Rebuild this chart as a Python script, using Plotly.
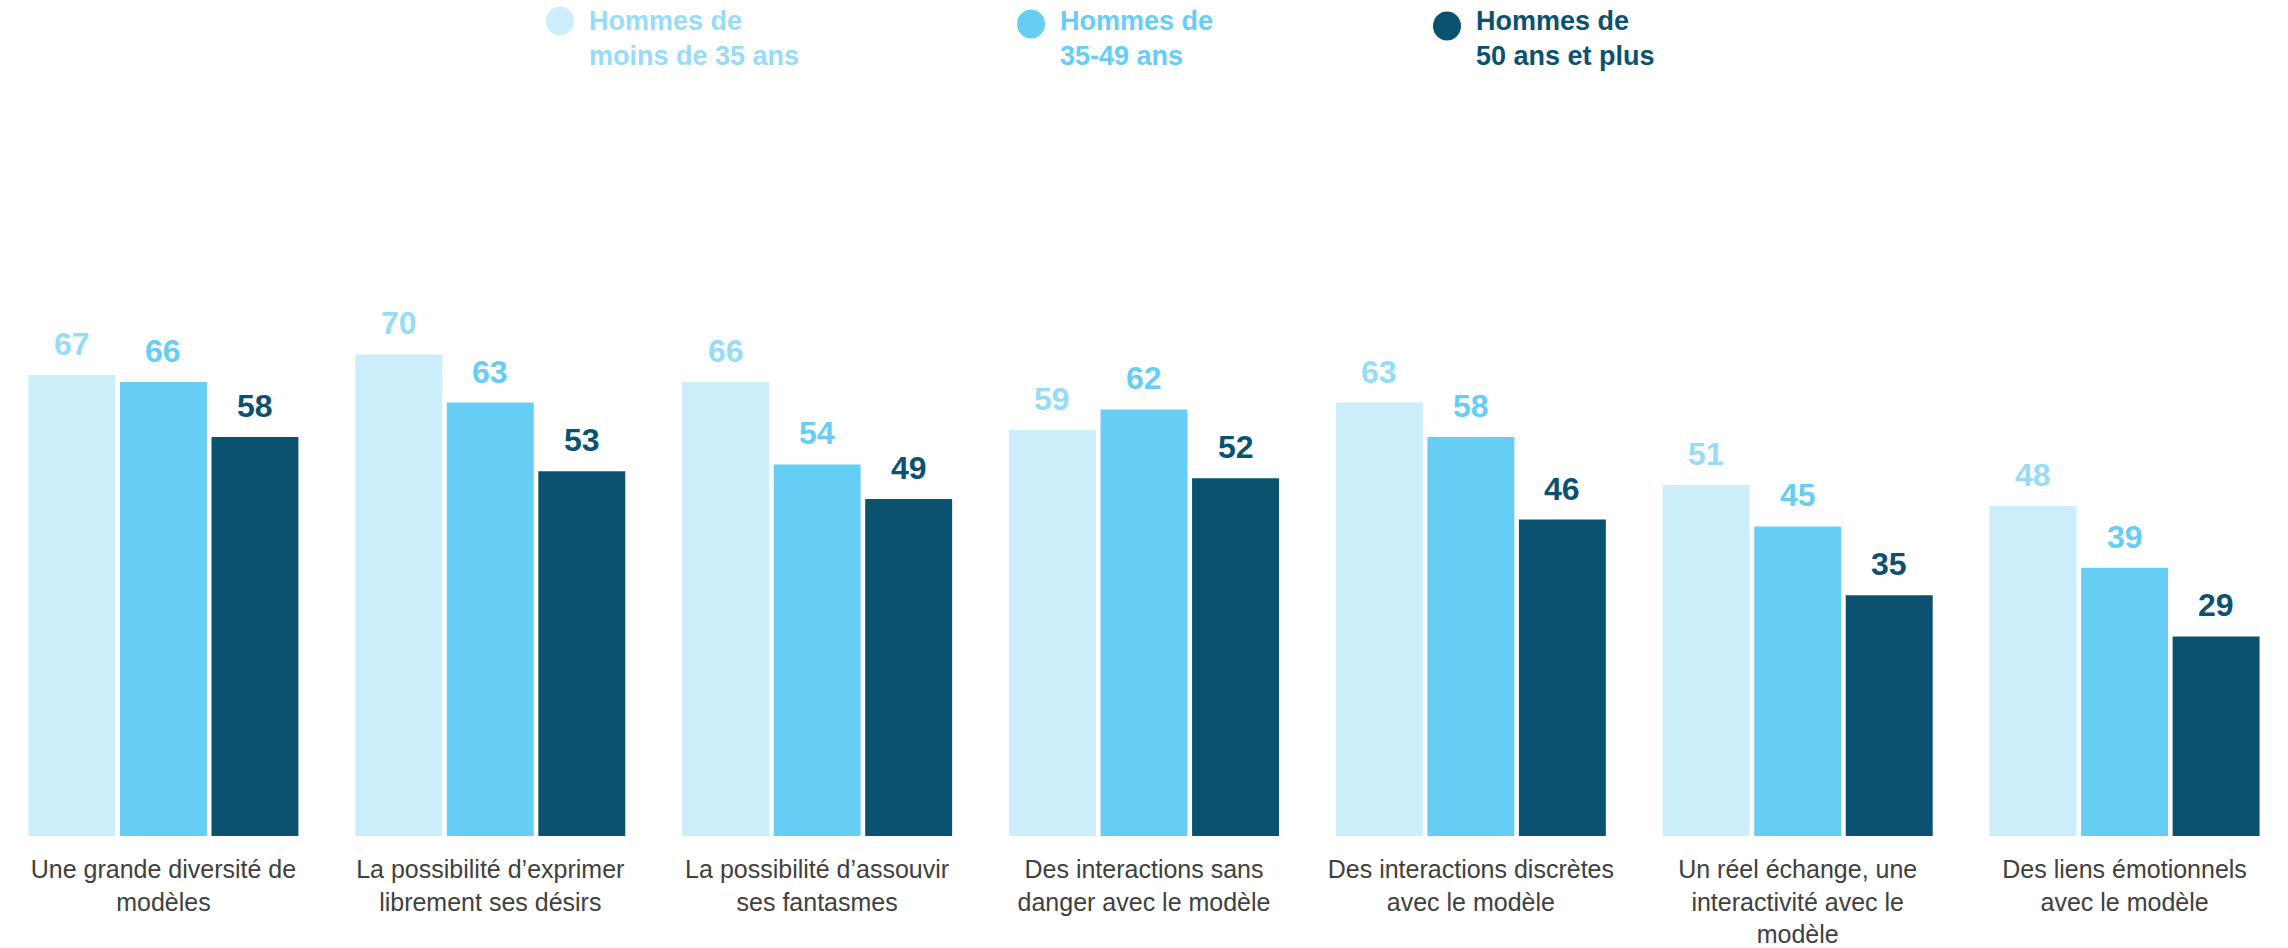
import plotly.graph_objects as go

categories = [
    "Une grande diversité de<br>modèles",
    "La possibilité d’exprimer<br>librement ses désirs",
    "La possibilité d’assouvir<br>ses fantasmes",
    "Des interactions sans<br>danger avec le modèle",
    "Des interactions discrètes<br>avec le modèle",
    "Un réel échange, une<br>interactivité avec le<br>modèle",
    "Des liens émotionnels<br>avec le modèle",
]
series_names = [
    "Hommes de<br>moins de 35 ans",
    "Hommes de<br>35-49 ans",
    "Hommes de<br>50 ans et plus",
]
under35 = [67, 70, 66, 59, 63, 51, 48]
age35_49 = [66, 63, 54, 62, 58, 45, 39]
over50 = [58, 53, 49, 52, 46, 35, 29]

series_values = [under35, age35_49, over50]
bar_colors = ["#CCEEFA", "#66CEF5", "#0A5270"]
label_colors = ["#96DCF7", "#66CEF5", "#0A5270"]

W, H = 2288, 948
MT, MB = 0, 112
PLOT_H = H - MT - MB
BARGAP = 0.16
BARGROUPGAP = 0.05
FONT = "Liberation Sans, Arial, sans-serif"

xs = list(range(len(categories)))

fig = go.Figure()
for name, vals, col in zip(series_names, series_values, bar_colors):
    fig.add_trace(go.Bar(
        x=xs, y=vals, name=name.replace("<br>", " "),
        marker=dict(color=col, line=dict(width=0)),
        showlegend=False, hoverinfo="x+y",
    ))

# value labels above bars
n = len(series_values)
group_w = 1 - BARGAP
slot = group_w / n
annotations = []
for k, (vals, col) in enumerate(zip(series_values, label_colors)):
    off = -group_w / 2 + slot * (k + 0.5)
    for i, v in zip(xs, vals):
        annotations.append(dict(
            x=i + off, y=v, xref="x", yref="y",
            text=f"<b>{v}</b>", showarrow=False,
            xanchor="center", yanchor="bottom", yshift=11,
            font=dict(family=FONT, size=32, color=col),
        ))


def px_x(p):
    return p / W


def px_y(p):
    return (H - MB - p) / PLOT_H


# legend (circle + text)
legend_pos = [(560, 21, 587), (1031, 24, 1058), (1447, 26, 1474)]
shapes = []
for (cx, cy, tx), name, bcol, lcol in zip(legend_pos, series_names, bar_colors, label_colors):
    shapes.append(dict(
        type="circle", xref="paper", yref="paper",
        x0=px_x(cx - 14), x1=px_x(cx + 14),
        y0=px_y(cy + 14.5), y1=px_y(cy - 14.5),
        fillcolor=bcol, line=dict(width=0),
    ))
    annotations.append(dict(
        x=px_x(tx), y=px_y(4), xref="paper", yref="paper",
        text=f"<b>{name}</b>", showarrow=False, align="left",
        xanchor="left", yanchor="top",
        font=dict(family=FONT, size=27, color=lcol),
    ))

fig.update_layout(
    width=W, height=H,
    margin=dict(l=0, r=0, t=MT, b=MB, pad=0, autoexpand=False),
    paper_bgcolor="white", plot_bgcolor="white",
    barmode="group", bargap=BARGAP, bargroupgap=BARGROUPGAP,
    font=dict(family=FONT, color="#404040"),
    xaxis=dict(
        tickmode="array", tickvals=xs, ticktext=categories,
        range=[-0.5, len(categories) - 0.5],
        showgrid=False, zeroline=False, showline=False, ticks="",
        tickfont=dict(family=FONT, size=25, color="#404040"),
        ticklabelstandoff=16, automargin=False,
    ),
    yaxis=dict(
        range=[0, PLOT_H / 6.88],
        visible=False, showgrid=False, zeroline=False, automargin=False,
    ),
    annotations=annotations,
    shapes=shapes,
    showlegend=False,
)

fig.write_html(
    "out.html",
    config={"displayModeBar": False},
    post_script="document.body.style.margin='0';document.body.style.overflow='hidden';",
)
